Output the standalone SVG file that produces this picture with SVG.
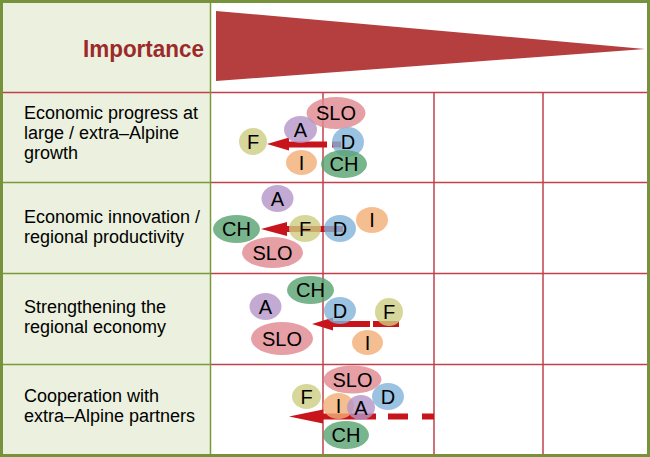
<svg xmlns="http://www.w3.org/2000/svg" width="650" height="457" viewBox="0 0 650 457">
<style>
.lab{font-family:"Liberation Sans",Arial,sans-serif;font-size:18px;fill:#000}
.nt{font-family:"Liberation Sans",Arial,sans-serif;font-size:20px;fill:#000;text-anchor:middle}
.red{stroke:#c0404c;stroke-width:1.5;fill:none}
.olv{stroke:#7a9a3a;stroke-width:1.5;fill:none}
.ell{fill-opacity:0.8}
.slo{fill:#e0888f}.a{fill:#b495c7}.d{fill:#82b4da}.f{fill:#cdcd82}.i{fill:#f2ae76}.ch{fill:#56a16f}
.sh{stroke:#c8151b;stroke-width:6;fill:none}
.hd{fill:#c8151b}
</style>
<rect x="0" y="0" width="650" height="457" fill="#ffffff"/>
<rect x="3" y="3" width="207.5" height="452" fill="#ebf1de"/>
<polygon points="216,11 645,49 216,81" fill="#b53e3f"/>
<text x="204" y="57" text-anchor="end" textLength="121" lengthAdjust="spacingAndGlyphs" style="font-family:'Liberation Sans',Arial,sans-serif;font-size:24px;font-weight:bold;fill:#9c2a2a">Importance</text>
<g id="grid">
<line class="red" x1="3" y1="92.5" x2="647" y2="92.5"/>
<line class="olv" x1="3" y1="182.5" x2="210" y2="182.5"/>
<line class="red" x1="210" y1="182.5" x2="647" y2="182.5"/>
<line class="olv" x1="3" y1="273.5" x2="210" y2="273.5"/>
<line class="red" x1="210" y1="273.5" x2="647" y2="273.5"/>
<line class="olv" x1="3" y1="364.5" x2="210" y2="364.5"/>
<line class="red" x1="210" y1="364.5" x2="647" y2="364.5"/>
<line class="red" x1="323" y1="92.5" x2="323" y2="455"/>
<line class="red" x1="434" y1="92.5" x2="434" y2="455"/>
<line class="red" x1="543" y1="92.5" x2="543" y2="455"/>
<line class="olv" x1="210.5" y1="3" x2="210.5" y2="455"/>
</g>
<rect x="1.5" y="1.5" width="647" height="454" fill="none" stroke="#76923c" stroke-width="3"/>
<g id="labels">
<text class="lab" x="24" y="119">Economic progress at</text>
<text class="lab" x="24" y="139">large / extra–Alpine</text>
<text class="lab" x="24" y="159">growth</text>
<text class="lab" x="24" y="223">Economic innovation /</text>
<text class="lab" x="24" y="243">regional productivity</text>
<text class="lab" x="24" y="313">Strengthening the</text>
<text class="lab" x="24" y="333">regional economy</text>
<text class="lab" x="24" y="402">Cooperation with</text>
<text class="lab" x="24" y="422">extra–Alpine partners</text>
</g>
<g id="connectors">
<line class="sh" x1="288" y1="144.5" x2="327" y2="144.5"/>
<line class="sh" x1="332" y1="144.5" x2="341" y2="144.5"/>
<polygon class="hd" points="267,144 289,137.5 289,150.5"/>
<line class="sh" x1="286" y1="229" x2="343" y2="229"/>
<polygon class="hd" points="261,229 287,222 287,236"/>
<line class="sh" x1="332" y1="324" x2="370" y2="324"/>
<line class="sh" x1="373" y1="324" x2="399" y2="324"/>
<polygon class="hd" points="312,324 333,317.5 333,330.5"/>
<line class="sh" x1="322" y1="416.5" x2="376" y2="416.5"/>
<line class="sh" x1="388" y1="416.5" x2="408" y2="416.5"/>
<line class="sh" x1="422" y1="416.5" x2="434" y2="416.5"/>
<polygon class="hd" points="289,416.5 323,409.5 323,423.5"/>
</g>
<g id="r1-SLO"><ellipse class="ell slo" cx="336" cy="113" rx="29.5" ry="16"/><text class="nt" x="336" y="120">SLO</text></g>
<g id="r1-A"><ellipse class="ell a" cx="300.5" cy="129.5" rx="16.5" ry="13.5"/><text class="nt" x="300.5" y="136.5">A</text></g>
<g id="r1-D"><ellipse class="ell d" cx="348" cy="142" rx="16" ry="15"/><text class="nt" x="348" y="149">D</text></g>
<g id="r1-CH"><ellipse class="ell ch" cx="344" cy="164" rx="23" ry="14"/><text class="nt" x="344" y="171">CH</text></g>
<g id="r1-I"><ellipse class="ell i" cx="301.5" cy="162.5" rx="15.5" ry="12.5"/><text class="nt" x="301.5" y="169.5">I</text></g>
<g id="r1-F"><ellipse class="ell f" cx="253" cy="141.5" rx="14" ry="13.5"/><text class="nt" x="253" y="148.5">F</text></g>

<g id="r2-A"><ellipse class="ell a" cx="277.5" cy="198.5" rx="16" ry="13.5"/><text class="nt" x="277.5" y="205.5">A</text></g>
<g id="r2-SLO"><ellipse class="ell slo" cx="272.5" cy="252.5" rx="30.5" ry="15.5"/><text class="nt" x="272.5" y="259.5">SLO</text></g>
<g id="r2-CH"><ellipse class="ell ch" cx="236.5" cy="229" rx="23.5" ry="14"/><text class="nt" x="236.5" y="236">CH</text></g>
<g id="r2-F"><ellipse class="ell f" cx="305" cy="228.5" rx="16" ry="13.5"/><text class="nt" x="305" y="235.5">F</text></g>
<g id="r2-D"><ellipse class="ell d" cx="340" cy="228.5" rx="16" ry="13.5"/><text class="nt" x="340" y="235.5">D</text></g>
<g id="r2-I"><ellipse class="ell i" cx="372" cy="220" rx="16" ry="13"/><text class="nt" x="372" y="227">I</text></g>

<g id="r3-CH"><ellipse class="ell ch" cx="310.5" cy="290" rx="23.5" ry="14"/><text class="nt" x="310.5" y="297">CH</text></g>
<g id="r3-A"><ellipse class="ell a" cx="265.5" cy="306.5" rx="16" ry="13.5"/><text class="nt" x="265.5" y="313.5">A</text></g>
<g id="r3-SLO"><ellipse class="ell slo" cx="282" cy="338.5" rx="31" ry="16.5"/><text class="nt" x="282" y="345.5">SLO</text></g>
<g id="r3-I"><ellipse class="ell i" cx="367.5" cy="342.5" rx="15.5" ry="12.5"/><text class="nt" x="367.5" y="349.5">I</text></g>
<g id="r3-D"><ellipse class="ell d" cx="340" cy="310.5" rx="16" ry="13.5"/><text class="nt" x="340" y="317.5">D</text></g>
<g id="r3-F"><ellipse class="ell f" cx="389" cy="312" rx="14" ry="14"/><text class="nt" x="389" y="319">F</text></g>

<g id="r4-SLO"><ellipse class="ell slo" cx="352.5" cy="379.5" rx="29" ry="14"/><text class="nt" x="352.5" y="386.5">SLO</text></g>
<g id="r4-F"><ellipse class="ell f" cx="306.5" cy="396.5" rx="14.5" ry="12.5"/><text class="nt" x="306.5" y="403.5">F</text></g>
<g id="r4-D"><ellipse class="ell d" cx="388" cy="396.5" rx="16" ry="13.5"/><text class="nt" x="388" y="403.5">D</text></g>
<g id="r4-CH"><ellipse class="ell ch" cx="346" cy="435" rx="23" ry="14"/><text class="nt" x="346" y="442">CH</text></g>
<g id="r4-I"><ellipse class="ell i" cx="338.5" cy="406" rx="15.5" ry="13"/><text class="nt" x="338.5" y="413">I</text></g>
<g id="r4-A"><ellipse class="ell a" cx="361" cy="407.5" rx="14" ry="12.5"/><text class="nt" x="361" y="414.5">A</text></g>
</svg>
